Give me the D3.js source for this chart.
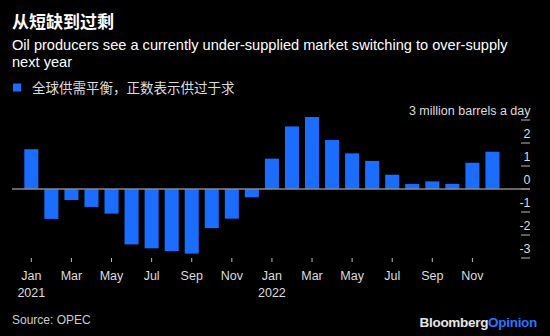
<!DOCTYPE html>
<html>
<head>
<meta charset="utf-8">
<script src="https://cdn.jsdelivr.net/npm/d3@7"></script>
<style>
  html, body { margin: 0; padding: 0; background: #000; }
  svg { display: block; }
  text { font-family: "Liberation Sans", Arial, "Noto Sans CJK SC", sans-serif; }
  .cjk { font-family: "Noto Sans CJK SC", "Liberation Sans", sans-serif; }
</style>
</head>
<body>
<script>
const months = ["Jan","Feb","Mar","Apr","May","Jun","Jul","Aug","Sep","Oct","Nov","Dec",
                "Jan","Feb","Mar","Apr","May","Jun","Jul","Aug","Sep","Oct","Nov","Dec"];
const years = ["2021","2021","2021","2021","2021","2021","2021","2021","2021","2021","2021","2021",
               "2022","2022","2022","2022","2022","2022","2022","2022","2022","2022","2022","2022"];
const balance = [1.73, -1.30, -0.48, -0.78, -1.07, -2.41, -2.58, -2.70, -2.81, -1.70, -1.29, -0.36,
                 1.32, 2.72, 3.13, 2.13, 1.55, 1.22, 0.62, 0.22, 0.33, 0.22, 1.14, 1.62];
const yTicks = [3, 2, 1, 0, -1, -2, -3];
const yTickLabels = ["3 million barrels a day", "2", "1", "0", "-1", "-2", "-3"];

const W = 550, H = 336;
const svg = d3.select("body").append("svg").attr("width", W).attr("height", H);
svg.append("rect").attr("width", W).attr("height", H).attr("fill", "#000");

const idx = d3.range(balance.length);
const x = d3.scaleBand().domain(idx).range([18.3, 505.5]).padding(0.3);
const y = d3.scaleLinear().domain([-3, 3]).range([258, 120]);

// Title
svg.append("text").attr("class", "cjk").attr("x", 12).attr("y", 28)
  .attr("fill", "#fff").attr("font-size", 17).attr("font-weight", "bold")
  .text("从短缺到过剩");
svg.append("text").attr("x", 12).attr("y", 50)
  .attr("fill", "#fff").attr("font-size", 14.6)
  .text("Oil producers see a currently under-supplied market switching to over-supply");
svg.append("text").attr("x", 12).attr("y", 67)
  .attr("fill", "#fff").attr("font-size", 14.6)
  .text("next year");

// Legend
svg.append("rect").attr("x", 13).attr("y", 83.5).attr("width", 8).attr("height", 8).attr("fill", "#1b6dff");
svg.append("text").attr("class", "cjk").attr("x", 32).attr("y", 92.5)
  .attr("fill", "#ddd").attr("font-size", 13.5)
  .text("全球供需平衡，正数表示供过于求");

// Y axis (right): tick lines with labels above them
const yAxis = svg.append("g");
yAxis.selectAll("line").data(yTicks).join("line")
  .attr("x1", 521).attr("x2", 530)
  .attr("y1", d => y(d)).attr("y2", d => y(d))
  .attr("stroke", "#bbb").attr("stroke-width", 1);
yAxis.selectAll("text").data(yTicks).join("text")
  .attr("x", 530.5).attr("y", d => y(d) - 5)
  .attr("text-anchor", "end").attr("fill", "#ddd").attr("font-size", 12.5)
  .text((d, i) => yTickLabels[i]);

// Bars
svg.append("g").selectAll("rect").data(balance).join("rect")
  .attr("x", (d, i) => x(i))
  .attr("width", x.bandwidth())
  .attr("y", d => y(Math.max(0, d)))
  .attr("height", d => Math.abs(y(d) - y(0)))
  .attr("fill", "#1b6dff");

// Zero line
svg.append("line").attr("x1", 12).attr("x2", 530)
  .attr("y1", y(0)).attr("y2", y(0))
  .attr("stroke", "#888").attr("stroke-width", 1.5);

// X axis ticks and labels (every other month)
const xt = idx.filter(i => i % 2 === 0);
const xg = svg.append("g");
xg.selectAll("line").data(xt).join("line")
  .attr("x1", i => x(i) + x.bandwidth() / 2).attr("x2", i => x(i) + x.bandwidth() / 2)
  .attr("y1", 258).attr("y2", 262)
  .attr("stroke", "#bbb").attr("stroke-width", 1);
xg.selectAll("text.m").data(xt).join("text").attr("class", "m")
  .attr("x", i => x(i) + x.bandwidth() / 2).attr("y", 280)
  .attr("text-anchor", "middle").attr("fill", "#ddd").attr("font-size", 12.5)
  .text(i => months[i]);
xg.selectAll("text.yr").data(xt.filter(i => i % 12 === 0)).join("text").attr("class", "yr")
  .attr("x", i => x(i) + x.bandwidth() / 2).attr("y", 297)
  .attr("text-anchor", "middle").attr("fill", "#ddd").attr("font-size", 12.5)
  .text(i => years[i]);

// Source
svg.append("text").attr("x", 12).attr("y", 324)
  .attr("fill", "#ccc").attr("font-size", 12)
  .text("Source: OPEC");

// Logo
const logo = svg.append("text").attr("x", 537).attr("y", 327)
  .attr("text-anchor", "end").attr("font-size", 13.5).attr("font-weight", "bold")
  .attr("letter-spacing", -0.3);
logo.append("tspan").attr("fill", "#e6e6e6").text("Bloomberg");
logo.append("tspan").attr("fill", "#2b74ff").text("Opinion");
</script>
</body>
</html>
